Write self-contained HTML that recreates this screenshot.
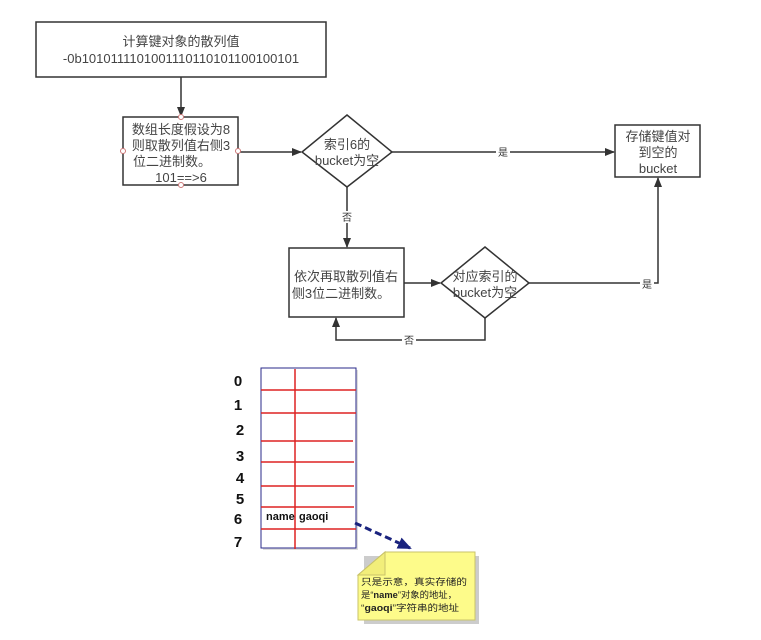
<!DOCTYPE html>
<html><head><meta charset="utf-8"><style>
html,body{margin:0;padding:0;background:#fff}
svg{display:block}
text{font-family:"Liberation Sans","Noto Sans CJK SC",sans-serif}
</style></head><body>
<svg width="761" height="640" viewBox="0 0 761 640" xmlns="http://www.w3.org/2000/svg">
<defs>
<marker id="a" markerWidth="10" markerHeight="8" refX="9" refY="4" orient="auto" markerUnits="userSpaceOnUse"><path d="M0,0 L10,4 L0,8 Z" fill="#333"/></marker>
<marker id="b" markerWidth="14" markerHeight="12" refX="12" refY="6" orient="auto" markerUnits="userSpaceOnUse"><path d="M0,0 L14,6 L0,12 Z" fill="#1a237e"/></marker>
</defs>
<g stroke="#333" stroke-width="1.5" fill="#fff">
<rect x="36" y="22" width="290" height="55"/>
<rect x="123" y="117" width="115" height="68"/>
<polygon points="347,115 392,152 347,187 302,152"/>
<rect x="615" y="125" width="85" height="52"/>
<rect x="289" y="248" width="115" height="69"/>
<polygon points="485,247 529,283 485,318 441,283"/>
</g>
<g stroke="#333" stroke-width="1.5" fill="none">
<line x1="181" y1="77" x2="181" y2="116" marker-end="url(#a)"/>
<line x1="238" y1="152" x2="301" y2="152" marker-end="url(#a)"/>
<line x1="392" y1="152" x2="614" y2="152" marker-end="url(#a)"/>
<line x1="347" y1="187" x2="347" y2="247" marker-end="url(#a)"/>
<line x1="404" y1="283" x2="440" y2="283" marker-end="url(#a)"/>
<polyline points="529,283 658,283 658,178" marker-end="url(#a)"/>
<polyline points="485,318 485,340 336,340 336,318" marker-end="url(#a)"/>
</g>
<g fill="#fff" stroke="#c77" stroke-width="1">
<circle cx="181" cy="117" r="2.5"/><circle cx="181" cy="185" r="2.5"/>
<circle cx="123" cy="151" r="2.5"/><circle cx="238" cy="151" r="2.5"/>
</g>
<g font-size="13" fill="#444" text-anchor="middle">
<text x="181" y="46">计算键对象的散列值</text>
<text x="181" y="63">-0b10101111010011101101011001001​01</text>
<text x="181" y="134">数组长度假设为8</text>
<text x="181" y="150">则取散列值右侧3</text>
<text x="172" y="166">位二进制数。</text>
<text x="181" y="182">101==&gt;6</text>
<text x="347" y="149">索引6的</text>
<text x="347" y="165">bucket为空</text>
<text x="658" y="141">存储键值对</text>
<text x="658" y="157">到空的</text>
<text x="658" y="173">bucket</text>
<text x="346" y="281">依次再取散列值右</text>
<text x="341" y="298">侧3位二进制数。</text>
<text x="485" y="281">对应索引的</text>
<text x="485" y="297">bucket为空</text>
</g>
<g font-size="10" fill="#333" text-anchor="middle">
<rect x="496" y="146" width="14" height="12" fill="#fff"/><text x="503" y="156">是</text>
<rect x="340" y="211" width="14" height="12" fill="#fff"/><text x="347" y="221">否</text>
<rect x="640" y="278" width="14" height="12" fill="#fff"/><text x="647" y="288">是</text>
<rect x="402" y="334" width="14" height="12" fill="#fff"/><text x="409" y="344">否</text>
</g>
<!-- table -->
<rect x="263" y="370" width="95" height="180" fill="#ddd"/>
<rect x="261" y="368" width="95" height="180" fill="#fff" stroke="#2a2a8a" stroke-width="1"/>
<g stroke="#d22" stroke-width="1.5">
<line x1="295" y1="369" x2="295" y2="549"/>
<line x1="261" y1="390" x2="356" y2="390"/>
<line x1="261" y1="413" x2="356" y2="413"/>
<line x1="261" y1="441" x2="353" y2="441"/>
<line x1="261" y1="462" x2="354" y2="462"/>
<line x1="261" y1="486" x2="354" y2="486"/>
<line x1="261" y1="507" x2="354" y2="507"/>
<line x1="261" y1="529" x2="356" y2="529"/>
</g>
<g font-size="15" font-weight="bold" fill="#111" text-anchor="middle">
<text x="238" y="386">0</text><text x="238" y="410">1</text><text x="240" y="435">2</text>
<text x="240" y="461">3</text><text x="240" y="483">4</text><text x="240" y="504">5</text>
<text x="238" y="524">6</text><text x="238" y="547">7</text>
</g>
<text x="266" y="520" font-size="11" font-weight="bold" fill="#111">name</text>
<text x="299" y="520" font-size="11" font-weight="bold" fill="#111">gaoqi</text>
<line x1="355" y1="523" x2="410" y2="548" stroke="#1a237e" stroke-width="3" stroke-dasharray="7,4" marker-end="url(#b)"/>
<!-- note -->
<polygon points="362,554 477,554 477,622 362,622" fill="#ccc" transform="translate(2,2)"/>
<polygon points="385,552 475,552 475,620 358,620 358,575" fill="#fdfb8a" stroke="#c9c36a" stroke-width="1"/>
<polygon points="358,575 385,575 385,552" fill="#f2ee7a" stroke="#c9c36a" stroke-width="1"/>
<g font-size="9" fill="#222">
<text x="361" y="585" textLength="106" lengthAdjust="spacingAndGlyphs">只是示意，真实存储的</text>
<text x="361" y="598" textLength="96" lengthAdjust="spacingAndGlyphs">是“<tspan font-weight="bold">name</tspan>”对象的地址，</text>
<text x="361" y="611" textLength="98" lengthAdjust="spacingAndGlyphs">“<tspan font-weight="bold">gaoqi</tspan>”字符串的地址</text>
</g>
</svg>
</body></html>
